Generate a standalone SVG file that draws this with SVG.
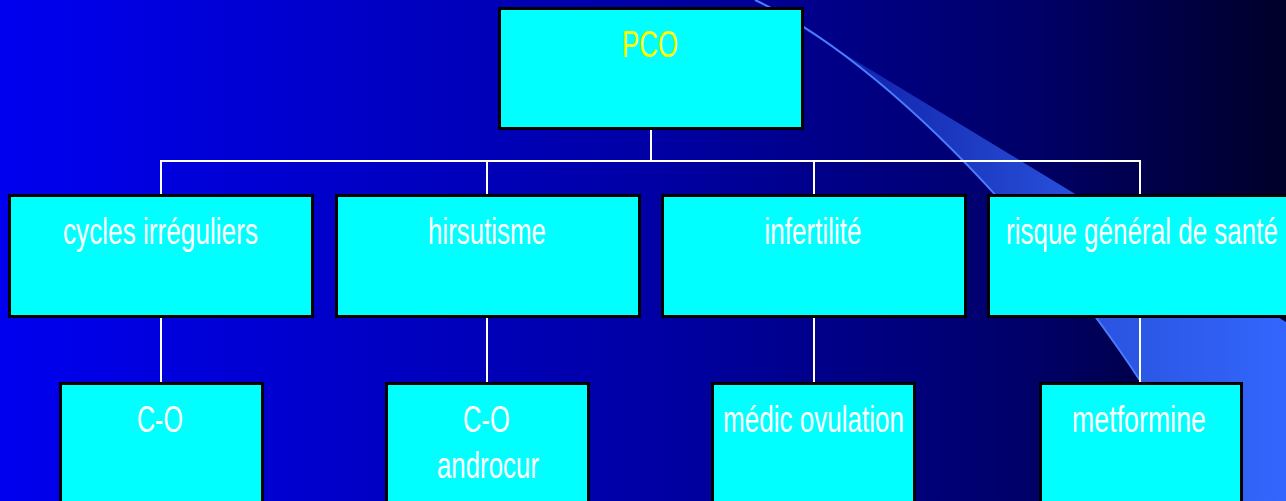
<svg xmlns="http://www.w3.org/2000/svg" width="1286" height="501" viewBox="0 0 1286 501">
<defs>
<linearGradient id="bg" x1="0" y1="0" x2="1286" y2="0" gradientUnits="userSpaceOnUse">
<stop offset="0" stop-color="#0000f0"/>
<stop offset="0.5" stop-color="#0000a6"/>
<stop offset="0.8" stop-color="#000068"/>
<stop offset="1" stop-color="#000028"/>
</linearGradient>
<linearGradient id="sw" x1="780" y1="0" x2="1286" y2="0" gradientUnits="userSpaceOnUse">
<stop offset="0" stop-color="#3366ff" stop-opacity="0.2"/>
<stop offset="0.6" stop-color="#3366ff" stop-opacity="0.8"/>
<stop offset="1" stop-color="#3366ff" stop-opacity="1"/>
</linearGradient>
<style>
.box{fill:#00ffff;stroke:#000;stroke-width:3}
.t{font-family:"Liberation Sans",Arial,sans-serif;font-size:36px;fill:#fff;text-anchor:middle}
.y{fill:#ffff00}
.c{stroke:#fff;stroke-width:2;fill:none}
</style>
</defs>
<rect width="1286" height="501" fill="url(#bg)"/>
<g id="swoosh">
<path d="M755,0 C905,70 1110,300 1210,501 L1286,501 L1286,322 L800,27 Z" fill="url(#sw)"/>
<path d="M755,0 C905,70 1110,300 1210,501" fill="none" stroke="#4a7cff" stroke-width="2"/>
</g>
<g id="connectors">
<line class="c" x1="651" y1="129" x2="651" y2="161"/>
<line class="c" x1="160" y1="161" x2="1141" y2="161"/>
<line class="c" x1="161" y1="161" x2="161" y2="195"/>
<line class="c" x1="487" y1="161" x2="487" y2="195"/>
<line class="c" x1="814" y1="161" x2="814" y2="195"/>
<line class="c" x1="1140" y1="161" x2="1140" y2="195"/>
<line class="c" x1="161" y1="317" x2="161" y2="383"/>
<line class="c" x1="487" y1="317" x2="487" y2="383"/>
<line class="c" x1="814" y1="317" x2="814" y2="383"/>
<line class="c" x1="1140" y1="317" x2="1140" y2="383"/>
</g>
<g id="pco">
<rect class="box" x="499.5" y="8.5" width="303" height="120"/>
<text class="t y" x="650" y="57" textLength="56" lengthAdjust="spacingAndGlyphs" font-size="40">PCO</text>
</g>
<g id="cycles">
<rect class="box" x="9.5" y="195.5" width="303" height="121"/>
<text class="t" x="160.5" y="244" textLength="195" lengthAdjust="spacingAndGlyphs">cycles irréguliers</text>
</g>
<g id="hirsutisme">
<rect class="box" x="336.5" y="195.5" width="303" height="121"/>
<text class="t" x="487" y="244" textLength="118" lengthAdjust="spacingAndGlyphs">hirsutisme</text>
</g>
<g id="infertilite">
<rect class="box" x="662.5" y="195.5" width="303" height="121"/>
<text class="t" x="813" y="244" textLength="97" lengthAdjust="spacingAndGlyphs">infertilité</text>
</g>
<g id="risque">
<rect class="box" x="988.5" y="195.5" width="304" height="121"/>
<text class="t" x="1142" y="244" textLength="272" lengthAdjust="spacingAndGlyphs">risque général de santé</text>
</g>
<g id="co1">
<rect class="box" x="60.5" y="383.5" width="202" height="130"/>
<text class="t" x="160" y="432" textLength="46" lengthAdjust="spacingAndGlyphs">C-O</text>
</g>
<g id="co2">
<rect class="box" x="386.5" y="383.5" width="202" height="130"/>
<text class="t" x="486.5" y="432" textLength="47" lengthAdjust="spacingAndGlyphs">C-O</text>
<text class="t" x="488" y="478" textLength="102" lengthAdjust="spacingAndGlyphs">androcur</text>
</g>
<g id="medic">
<rect class="box" x="712.5" y="383.5" width="202" height="130"/>
<text class="t" x="813.5" y="432" textLength="181" lengthAdjust="spacingAndGlyphs">médic ovulation</text>
</g>
<g id="metformine">
<rect class="box" x="1040.5" y="383.5" width="201" height="130"/>
<text class="t" x="1139" y="432" textLength="134" lengthAdjust="spacingAndGlyphs">metformine</text>
</g>
</svg>
